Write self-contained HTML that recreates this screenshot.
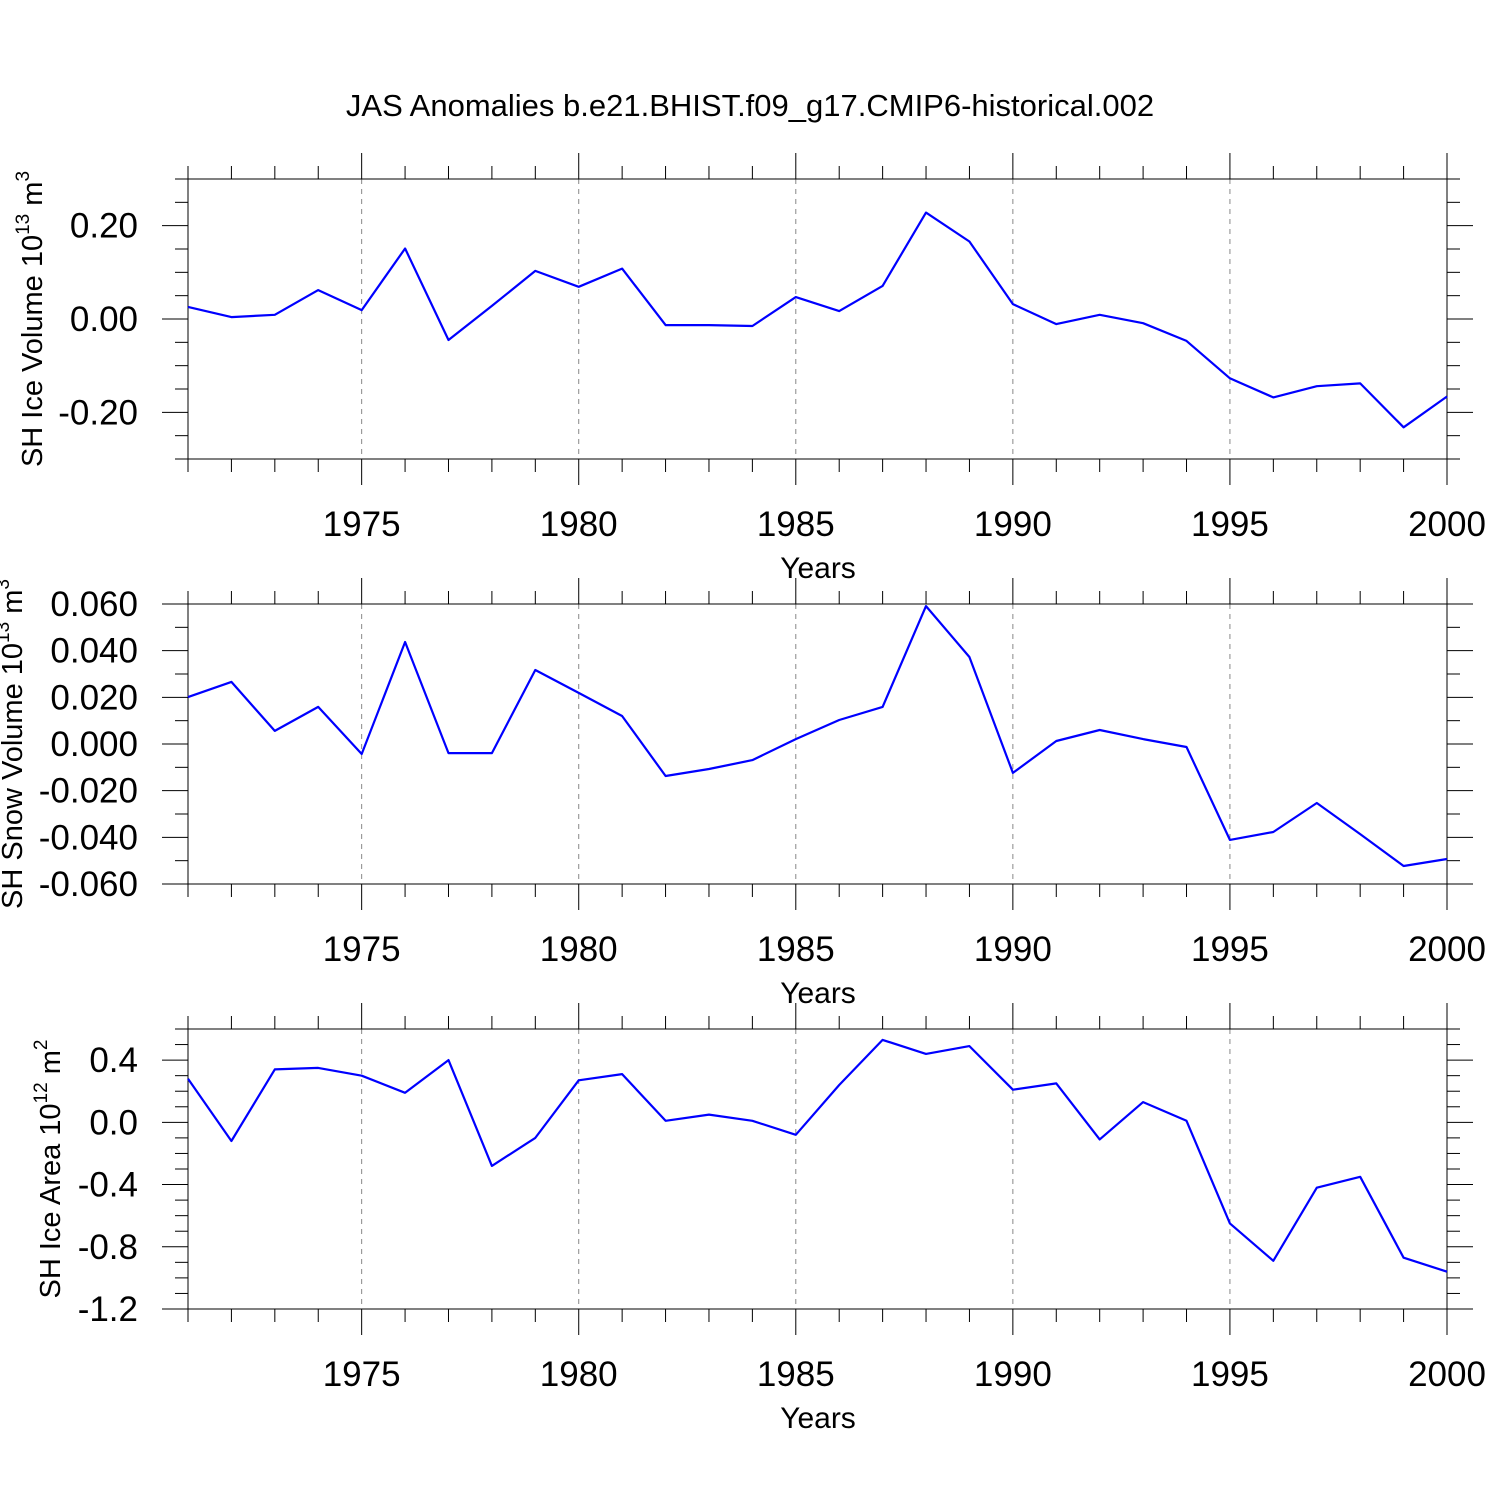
<!DOCTYPE html>
<html><head><meta charset="utf-8"><style>
html,body{margin:0;padding:0;background:#fff;}
svg{display:block;font-family:"Liberation Sans",Arial,sans-serif;}
</style></head><body>
<svg id="chart" width="1500" height="1500" viewBox="0 0 1500 1500" xmlns="http://www.w3.org/2000/svg">
<rect width="1500" height="1500" fill="#fff"/>
<text x="750" y="116" font-size="31" text-anchor="middle">JAS Anomalies b.e21.BHIST.f09_g17.CMIP6-historical.002</text>
</svg>
<script>
const years = [1971,1972,1973,1974,1975,1976,1977,1978,1979,1980,1981,1982,1983,1984,1985,1986,1987,1988,1989,1990,1991,1992,1993,1994,1995,1996,1997,1998,1999,2000];
const iceVolume = [0.026,0.004,0.009,0.062,0.019,0.151,-0.045,0.028,0.103,0.069,0.108,-0.013,-0.013,-0.015,0.047,0.017,0.071,0.228,0.166,0.032,-0.011,0.009,-0.009,-0.047,-0.127,-0.168,-0.144,-0.138,-0.232,-0.166];
const snowVolume = [0.0201,0.0266,0.0056,0.0159,-0.0043,0.0437,-0.0039,-0.0039,0.0317,0.0219,0.012,-0.0137,-0.0107,-0.0069,0.0021,0.0103,0.0159,0.0591,0.0373,-0.0124,0.0013,0.006,0.0021,-0.0013,-0.0411,-0.0377,-0.0253,-0.0386,-0.0523,-0.0493];
const iceArea = [0.28,-0.12,0.34,0.35,0.30,0.19,0.40,-0.28,-0.10,0.27,0.31,0.01,0.05,0.01,-0.08,0.24,0.53,0.44,0.49,0.21,0.25,-0.11,0.13,0.01,-0.65,-0.89,-0.42,-0.35,-0.87,-0.96];
const xTickLabels = [1975,1980,1985,1990,1995,2000];
const yTicks1 = [-0.2,0,0.2];
const yTicks2 = [-0.06,-0.04,-0.02,0,0.02,0.04,0.06];
const yTicks3 = [-1.2,-0.8,-0.4,0,0.4];

const svg = document.getElementById('chart');
const NS = 'http://www.w3.org/2000/svg';
const X0 = 188, X1 = 1447;
function xs(v){ return X0 + (v - 1971) / (2000 - 1971) * (X1 - X0); }
function mk(tag, attrs, parent){
  const e = document.createElementNS(NS, tag);
  for (const k in attrs) e.setAttribute(k, attrs[k]);
  (parent || svg).appendChild(e);
  return e;
}
function panel(cfg){
  const g = mk('g', {});
  
  
  const T = cfg.top, B = cfg.top + 280;
  const ys = v => B - (v - cfg.min) / (cfg.max - cfg.min) * (B - T);
  for (let y = 1975; y <= 1995; y += 5) {
    const l = mk('line', {x1: xs(y), x2: xs(y), y1: T, y2: B, stroke: '#888', 'stroke-width': 1, 'stroke-dasharray': '5,5'}, g);
    
    
  }
  for (let y = 1971; y <= 2000; y++) {
    const len = (y % 5 === 0) ? 26 : 13;
    mk('line', {x1: xs(y), x2: xs(y), y1: T, y2: T - len, stroke: '#000', 'stroke-width': 1}, g);
    mk('line', {x1: xs(y), x2: xs(y), y1: B, y2: B + len, stroke: '#000', 'stroke-width': 1}, g);
  }
  xTickLabels.forEach(v => {
    const t = mk('text', {x: xs(v), y: B + 77, 'font-size': 35, 'text-anchor': 'middle'}, g);
    
    
    t.textContent = v;
  });
  const xt = mk('text', {x: 818, y: B + 119, 'font-size': 30, 'text-anchor': 'middle'}, g);
  
  
  xt.textContent = 'Years';
  const n = Math.round((cfg.max - cfg.min) / cfg.minor);
  for (let i = 0; i <= n; i++) {
    const v = cfg.min + i * cfg.minor;
    const isMaj = cfg.ticks.some(t => Math.abs(t - v) < 1e-9);
    const len = isMaj ? 26 : 13;
    mk('line', {x1: X0, x2: X0 - len, y1: ys(v), y2: ys(v), stroke: '#000', 'stroke-width': 1}, g);
    mk('line', {x1: X1, x2: X1 + len, y1: ys(v), y2: ys(v), stroke: '#000', 'stroke-width': 1}, g);
  }
  cfg.ticks.forEach(v => {
    const t = mk('text', {x: 138, y: ys(v) + 12, 'font-size': 35, 'text-anchor': 'end'}, g);
    
    
    t.textContent = v.toFixed(cfg.dec);
  });
  const yt = mk('text', {transform: `translate(${cfg.tx},${(T + B) / 2}) rotate(-90)`, 'font-size': 29, 'text-anchor': 'middle'}, g);
  
  
  yt.innerHTML = cfg.title;
  const fr = mk('rect', {x: X0, y: T, width: X1 - X0, height: B - T, fill: 'none', stroke: '#000', 'stroke-width': 1}, g);
  
  
  const pts = cfg.data.map((v, i) => xs(years[i]).toFixed(1) + ',' + ys(v).toFixed(1)).join(' ');
  const pl = mk('polyline', {points: pts, fill: 'none', stroke: '#0000ff', 'stroke-width': 2.2, 'stroke-linejoin': 'round'}, g);
  
  
}
panel({name: 'ice-volume-panel', top: 179, min: -0.3, max: 0.3, minor: 0.05, ticks: yTicks1, dec: 2, data: iceVolume, tx: 42,
  title: 'SH Ice Volume 10<tspan dy="-13" font-size="19">13</tspan><tspan dy="13"> m</tspan><tspan dy="-13" font-size="19">3</tspan>'});
panel({name: 'snow-volume-panel', top: 604, min: -0.06, max: 0.06, minor: 0.01, ticks: yTicks2, dec: 3, data: snowVolume, tx: 22,
  title: 'SH Snow Volume 10<tspan dy="-13" font-size="19">13</tspan><tspan dy="13"> m</tspan><tspan dy="-13" font-size="19">3</tspan>'});
panel({name: 'ice-area-panel', top: 1029, min: -1.2, max: 0.6, minor: 0.1, ticks: yTicks3, dec: 1, data: iceArea, tx: 60,
  title: 'SH Ice Area 10<tspan dy="-13" font-size="19">12</tspan><tspan dy="13"> m</tspan><tspan dy="-13" font-size="19">2</tspan>'});
</script>
</body></html>
